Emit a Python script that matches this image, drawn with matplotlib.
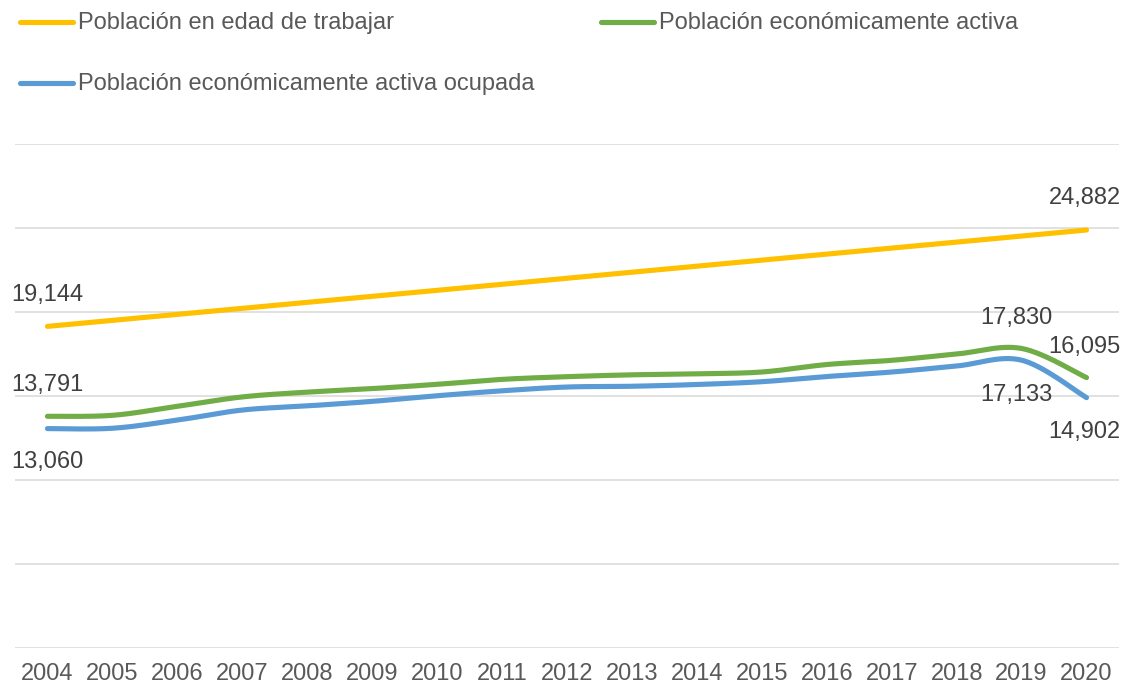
import numpy as np
import matplotlib
matplotlib.use("Agg")
import matplotlib.pyplot as plt
from matplotlib.lines import Line2D

years = [str(y) for y in range(2004, 2021)]
pet = [19144, 19500, 19860, 20215, 20575, 20935, 21290, 21650, 22010, 22370, 22725,
       23085, 23445, 23805, 24160, 24520, 24882]
pea = [13791, 13850, 14386, 14945, 15230, 15440, 15695, 15990, 16150, 16261, 16320,
       16428, 16874, 17124, 17499, 17830, 16095]
pea_ocupada = [13060, 13080, 13566, 14165, 14410, 14680, 15015, 15310, 15535, 15580, 15684,
               15851, 16159, 16427, 16785, 17133, 14902]

series_names = ["Población en edad de trabajar", "Población económicamente activa",
                "Población económicamente activa ocupada"]
colors = ["#FFC000", "#70AD47", "#5B9BD5"]

plt.rcParams['font.family'] = ['Liberation Sans', 'DejaVu Sans']

W, H = 1125, 686
FS = 17
fig = plt.figure(figsize=(W / 100, H / 100), dpi=100)
ax = fig.add_axes([15 / W, (H - 648) / H, (1119 - 15) / W, (648 - 144) / H])


def smooth(y, n=30):
    x = np.arange(len(y), dtype=float)
    y = np.asarray(y, dtype=float)
    P = np.column_stack([x, y])
    Pext = np.vstack([P[0], P, P[-1]])
    out = []
    for i in range(len(P) - 1):
        p0, p1, p2, p3 = Pext[i], Pext[i + 1], Pext[i + 2], Pext[i + 3]
        c1 = p1 + (p2 - p0) / 6.0
        c2 = p2 - (p3 - p1) / 6.0
        t = np.linspace(0, 1, n, endpoint=(i == len(P) - 2))[:, None]
        b = (1 - t) ** 3 * p1 + 3 * (1 - t) ** 2 * t * c1 + 3 * (1 - t) * t ** 2 * c2 + t ** 3 * p2
        out.append(b)
    out = np.vstack(out)
    return out[:, 0], out[:, 1]


for data, col in zip([pet, pea, pea_ocupada], colors):
    sx, sy = smooth(data)
    ax.plot(sx, sy, color=col, lw=3.7, solid_capstyle='round', zorder=3)

ax.set_xlim(-0.5, len(years) - 0.5)
ax.set_ylim(0, 30000)
ax.set_yticks(np.arange(0, 30001, 5000))
ax.set_xticks(range(len(years)))
ax.set_xticklabels(years)
ax.tick_params(axis='x', length=0, pad=11, labelsize=FS, labelcolor='#595959')
ax.tick_params(axis='y', length=0, labelleft=False)
ax.grid(axis='y', color='#D9D9D9', lw=1.1)
ax.set_axisbelow(True)
for s in ax.spines.values():
    s.set_visible(False)

label_color = '#404040'
last = len(years) - 1


def lab(i, v, dy, dx=0):
    ax.annotate(f"{v:,}", xy=(i, v), xytext=(dx, dy), textcoords='offset pixels',
                ha='center', va='center', fontsize=FS, color=label_color, zorder=4)


lab(0, pet[0], 31)
lab(last, pet[last], 32, -2)
lab(0, pea[0], 31)
lab(15, pea[15], 30, -5)
lab(last, pea[last], 31, -2)
lab(0, pea_ocupada[0], -33)
lab(15, pea_ocupada[15], -35, -5)
lab(last, pea_ocupada[last], -34, -2)

# legend
leg = [(20, 73, 22, 0), (601, 654, 22, 1), (20, 73, 83, 2)]
for x0, x1, yy, k in leg:
    fig.add_artist(Line2D([x0 / W, x1 / W], [1 - yy / H, 1 - yy / H], color=colors[k],
                          lw=3.7, solid_capstyle='round', transform=fig.transFigure))
    fig.text((x1 + 5) / W, 1 - (yy + 1) / H, series_names[k], fontsize=FS, color='#595959',
             ha='left', va='center')

fig.savefig("out.png", dpi=100)
